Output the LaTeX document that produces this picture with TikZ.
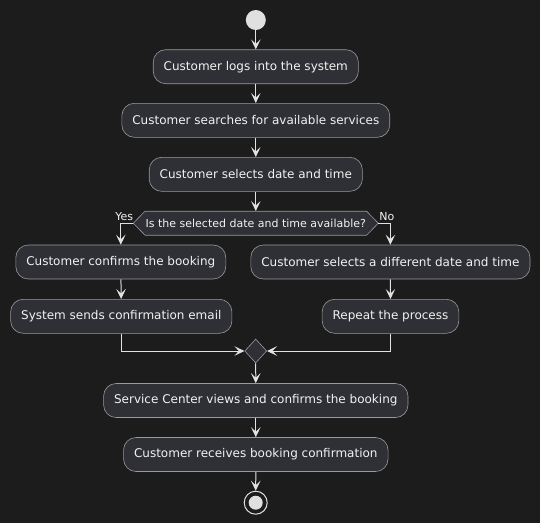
\documentclass[tikz,border=0pt]{standalone}
\usepackage{fontspec}
\setmainfont{DejaVu Sans}
\usetikzlibrary{arrows.meta,shapes.geometric,calc}
\definecolor{bgc}{HTML}{1C1C1C}
\definecolor{nodefill}{HTML}{2F2F36}
\definecolor{nodeborder}{HTML}{9A9A9A}
\definecolor{linec}{HTML}{E2E2E2}
\definecolor{textc}{HTML}{F2F2F2}
\definecolor{dotc}{HTML}{E0E0E0}
\tikzset{
  act/.style={draw=nodeborder, line width=0.6pt, fill=nodefill, rounded corners=12.5pt,
    minimum height=34pt, inner xsep=10.5pt, inner ysep=0pt, text=textc,
    font=\fontsize{12pt}{14pt}\selectfont},
  arr/.style={draw=linec, line width=1pt, -{Stealth[length=10pt,width=9.5pt,inset=4.5pt]}},
  lbl/.style={text=textc, font=\fontsize{11pt}{13pt}\selectfont, inner sep=0pt},
  startdot/.style={circle, fill=dotc, draw=none, minimum size=20pt, inner sep=0pt},
  mergebox/.style={diamond, draw=nodeborder, line width=0.6pt, fill=nodefill, minimum width=22pt, minimum height=24pt, inner sep=0pt},
  hexbox/.style={draw=nodeborder, line width=0.6pt, fill=nodefill}
}
\begin{document}
\begin{tikzpicture}[x=1pt,y=-1pt]
\fill[bgc] (0,0) rectangle (540,523);
\useasboundingbox (0,0) rectangle (540,523);

\node[startdot] (start) at (255.8,20) {};
\node[act] (n1) at (255.8,66.7) {Customer logs into the system};
\node[act] (n2) at (255.8,120.3) {Customer searches for available services};
\node[act] (n3) at (255.8,174.3) {Customer selects date and time};

% decision hexagon
\coordinate (dL) at (133.3,223.2);
\coordinate (dR) at (378.3,223.2);
\coordinate (dTL) at (145,211.2);
\coordinate (dTR) at (366.6,211.2);
\coordinate (dBL) at (145,235.2);
\coordinate (dBR) at (366.6,235.2);
\draw[hexbox] (dTL) -- (dTR) -- (dR) -- (dBR) -- (dBL) -- (dL) -- cycle;
\node[lbl, minimum width=221.6pt, minimum height=24pt] (dec) at (255.8,223.2) {Is the selected date and time available?};
\node[lbl, anchor=base east] (yes) at ($(dL)+(0,-2.3)$) {Yes};
\node[lbl, anchor=base west] (no) at ($(dR)+(0.8,-2.3)$) {No};

\node[act] (c1) at (120.8,262) {Customer confirms the booking};
\node[act] (c2) at (121.3,316.3) {System sends confirmation email};
\node[act] (d1) at (390.4,262) {Customer selects a different date and time};
\node[act] (d2) at (390.5,316.3) {Repeat the process};

\node[mergebox] (merge) at (255.7,351) {};

\node[act] (s1) at (255.8,400.5) {Service Center views and confirms the booking};
\node[act] (s2) at (255.8,454.5) {Customer receives booking confirmation};

\node[circle, draw=dotc, line width=1pt, fill=bgc, minimum size=23pt, inner sep=0pt] (end) at (255.7,502.7) {};
\node[circle, fill=dotc, minimum size=14pt, inner sep=0pt] (endin) at (end.center) {};

\draw[arr] (start) -- (n1);
\draw[arr] (n1) -- (n2);
\draw[arr] (n2) -- (n3);
\draw[arr] (n3) -- (dec.north);
\draw[arr] (dL) -| (c1.north);
\draw[arr] (dR) -| (d1.north);
\draw[arr] (c1) -- (c2);
\draw[arr] (d1) -- (d2);
\draw[arr] (c2.south) |- (merge.west);
\draw[arr] (d2.south) |- (merge.east);
\draw[arr] (merge) -- (s1);
\draw[arr] (s1) -- (s2);
\draw[arr] (s2) -- (end);
\end{tikzpicture}
\end{document}
